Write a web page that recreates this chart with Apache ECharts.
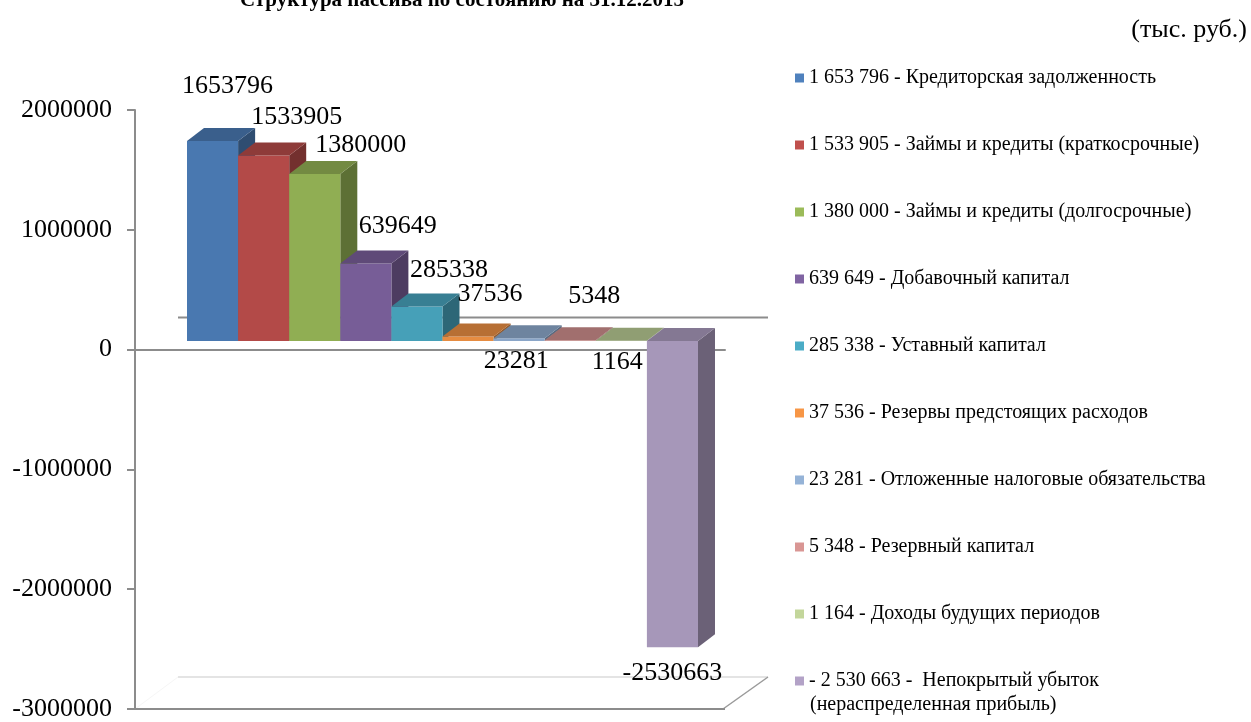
<!DOCTYPE html>
<html><head><meta charset="utf-8">
<script src="https://cdn.jsdelivr.net/npm/echarts@6/dist/echarts.min.js"></script>
<style>html,body{margin:0;padding:0;background:#fff}#c{width:1251px;height:722px}</style>
</head><body><div id="c"></div>
<script>
// ---- data ----
const categories = ['Кредиторская задолженность', 'Займы и кредиты (краткосрочные)', 'Займы и кредиты (долгосрочные)', 'Добавочный капитал', 'Уставный капитал', 'Резервы предстоящих расходов', 'Отложенные налоговые обязательства', 'Резервный капитал', 'Доходы будущих периодов', 'Непокрытый убыток (нераспределенная прибыль)'];
const values = [1653796, 1533905, 1380000, 639649, 285338, 37536, 23281, 5348, 1164, -2530663];
const legendNames = [
  '1 653 796 - Кредиторская задолженность',
  '1 533 905 - Займы и кредиты (краткосрочные)',
  '1 380 000 - Займы и кредиты (долгосрочные)',
  '639 649 - Добавочный капитал',
  '285 338 - Уставный капитал',
  '37 536 - Резервы предстоящих расходов',
  '23 281 - Отложенные налоговые обязательства',
  '5 348 - Резервный капитал',
  '1 164 - Доходы будущих периодов',
  '- 2 530 663 -  Непокрытый убыток'
];
const legendLastLine = '(нераспределенная прибыль)';
const yMin = -3000000, yMax = 2000000, yStep = 1000000;
const titleText = 'Структура пассива по состоянию на 31.12.2015';
const unitText = '(тыс. руб.)';

// ---- styling ----
const colors = ['#4F81BD', '#C0504D', '#9BBB59', '#8064A2', '#4BACC6', '#F79646', '#95B3D7', '#D99694', '#C3D69B', '#B3A2C7'];
const labelShift = [[15, -55], [33, -38], [46, -29], [32, -37], [32, -36], [22, -42], [-3, 23], [24, -44], [-4, 21], [0, 26]];
const FONT = "'Liberation Serif','Times New Roman',serif";
const AX = '#8c8c8c';

function shade(hex, k) {
  const n = parseInt(hex.slice(1), 16);
  const r = Math.round(((n >> 16) & 255) * k), g = Math.round(((n >> 8) & 255) * k), b = Math.round((n & 255) * k);
  return 'rgb(' + r + ',' + g + ',' + b + ')';
}

const DX = 17, DY = -13;
function renderBar(params, api) {
  const idx = api.value(0);
  const val = api.value(1);
  const col = api.visual('color');
  const pEnd = api.coord([idx, val]);
  const pZero = api.coord([idx, 0]);
  const w = api.size([1, 0])[0];
  const x0 = pEnd[0] - w / 2, x1 = pEnd[0] + w / 2;
  const yTop = Math.min(pEnd[1], pZero[1]);
  const yBot = Math.max(pEnd[1], pZero[1]);
  const children = [
    {type: 'polygon', shape: {points: [[x1, yTop], [x1 + DX, yTop + DY], [x1 + DX, yBot + DY], [x1, yBot]]}, style: {fill: shade(col, 0.6)}},
    {type: 'rect', shape: {x: x0, y: yTop, width: w, height: yBot - yTop}, style: {fill: shade(col, 0.93)}},
    {type: 'polygon', shape: {points: [[x0, yTop], [x1, yTop], [x1 + DX, yTop + DY], [x0 + DX, yTop + DY]]}, style: {fill: shade(col, 0.74)}}
  ];
  const s = labelShift[idx];
  children.push({
    type: 'text', x: pEnd[0] + s[0], y: pEnd[1] + s[1],
    style: {text: String(values[idx]), fontFamily: FONT, fontSize: 26, fill: '#000', align: 'center', verticalAlign: 'middle'}
  });
  return {type: 'group', children: children};
}

function renderDecor(params, api) {
  const cs = params.coordSys;
  const y0 = api.coord([0, 0])[1];
  const yF = api.coord([0, yMin])[1];
  const L = cs.x, R = cs.x + cs.width;
  const dx = 43, dy = -32;
  return {type: 'group', children: [
    {type: 'line', shape: {x1: L + dx, y1: y0 + dy, x2: R + dx, y2: y0 + dy}, style: {stroke: AX, lineWidth: 2}},
    {type: 'line', shape: {x1: L + dx, y1: yF + dy, x2: R + dx, y2: yF + dy}, style: {stroke: '#e4e4e4', lineWidth: 2}},
    {type: 'line', shape: {x1: L, y1: yF, x2: L + dx, y2: yF + dy}, style: {stroke: '#f6f6f6', lineWidth: 1}},
    {type: 'line', shape: {x1: R + dx, y1: yF + dy, x2: R - 2, y2: yF}, style: {stroke: '#9a9a9a', lineWidth: 1.5}},
    {type: 'line', shape: {x1: L, y1: yF, x2: R, y2: yF}, style: {stroke: AX, lineWidth: 2}}
  ]};
}

const series = [{
  type: 'custom', name: 'decor', xAxisIndex: 0, yAxisIndex: 0, silent: true, z: 1,
  data: [[0, 0]], renderItem: renderDecor
}];
values.forEach(function (v, i) {
  series.push({
    type: 'custom', name: legendNames[i], xAxisIndex: 1, yAxisIndex: 1, z: 2,
    itemStyle: {color: colors[i]},
    data: [[i, v]], renderItem: renderBar
  });
});

const chart = echarts.init(document.getElementById('c'), null, {renderer: 'canvas'});
chart.setOption({
  animation: false,
  backgroundColor: '#fff',
  graphic: [
    {type: 'text', x: 462, y: 1, style: {text: titleText, fontFamily: FONT, fontSize: 21, fontWeight: 'bold', fill: '#000', align: 'center', verticalAlign: 'middle'}},
    {type: 'text', x: 1247, y: 30, style: {text: unitText, fontFamily: FONT, fontSize: 26, fill: '#000', align: 'right', verticalAlign: 'middle'}},
    {type: 'text', x: 810, y: 705, style: {text: legendLastLine, fontFamily: FONT, fontSize: 20, fill: '#000', align: 'left', verticalAlign: 'middle'}}
  ],
  legend: {
    data: legendNames, orient: 'vertical', left: 795, top: 66, height: 650, padding: 0,
    itemWidth: 9, itemHeight: 9, itemGap: 43, icon: 'rect', selectedMode: false,
    textStyle: {fontFamily: FONT, fontSize: 20, lineHeight: 24, color: '#000'}
  },
  grid: [
    {left: 135, top: 110, width: 590, height: 602},
    {left: 187, top: 99, width: 511, height: 605}
  ],
  xAxis: [
    {type: 'category', gridIndex: 0, data: [''], axisLine: {onZero: true, lineStyle: {color: AX, width: 2}}, axisTick: {show: false}, axisLabel: {show: false}, splitLine: {show: false}},
    {type: 'category', gridIndex: 1, data: categories, show: false}
  ],
  yAxis: [
    {type: 'value', gridIndex: 0, min: yMin, max: yMax, interval: yStep,
     axisLine: {show: true, lineStyle: {color: AX, width: 2}},
     axisTick: {show: true, length: 8, lineStyle: {color: AX, width: 2}},
     axisLabel: {fontFamily: FONT, fontSize: 26, color: '#000', margin: 23, formatter: function (v) { return String(v); }},
     splitLine: {show: false}},
    {type: 'value', gridIndex: 1, min: yMin, max: yMax, interval: yStep, show: false, splitLine: {show: false}}
  ],
  series: series
});
</script></body></html>
